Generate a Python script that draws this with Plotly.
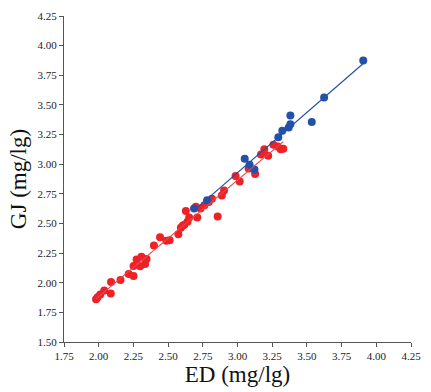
import numpy as np
import plotly.graph_objects as go

# Red series (ED, GJ)
red_x = [1.981, 1.992, 2.011, 2.040, 2.087, 2.089, 2.157, 2.216, 2.251, 2.251, 2.273, 2.308,
         2.334, 2.299, 2.398, 2.442, 2.487, 2.511, 2.574, 2.592, 2.617, 2.640, 2.628, 2.652,
         2.710, 2.734, 2.762, 2.793, 2.816, 2.857, 2.887, 2.903, 2.986, 3.016, 3.080, 3.127,
         3.169, 3.193, 3.221, 3.259, 3.311, 3.330, 2.700, 3.290, 2.605, 2.345]
red_y = [1.860, 1.877, 1.901, 1.934, 1.909, 2.007, 2.024, 2.073, 2.057, 2.141, 2.196, 2.220,
         2.157, 2.138, 2.313, 2.384, 2.354, 2.359, 2.409, 2.463, 2.490, 2.515, 2.605, 2.550,
         2.550, 2.627, 2.654, 2.681, 2.709, 2.558, 2.736, 2.777, 2.900, 2.853, 2.963, 2.918,
         3.082, 3.126, 3.072, 3.164, 3.126, 3.131, 2.640, 3.150, 2.480, 2.200]

# Blue series (ED, GJ)
blue_x = [2.687, 2.781, 3.052, 3.087, 3.122, 3.294, 3.323, 3.369, 3.381, 3.381, 3.535, 3.624, 3.906]
blue_y = [2.627, 2.695, 3.045, 2.995, 2.955, 3.227, 3.282, 3.309, 3.336, 3.410, 3.356, 3.563, 3.874]

x_ticks = [1.75, 2.00, 2.25, 2.50, 2.75, 3.00, 3.25, 3.50, 3.75, 4.00, 4.25]
y_ticks = [1.50, 1.75, 2.00, 2.25, 2.50, 2.75, 3.00, 3.25, 3.50, 3.75, 4.00, 4.25]

RED = "#ec2227"
BLUE = "#2350a8"
SERIF = "'Times New Roman', 'Liberation Serif', Times, serif"

fig = go.Figure()
fig.add_trace(go.Scatter(x=red_x, y=red_y, mode="markers",
                         marker=dict(color=RED, size=8, line=dict(width=0)), showlegend=False))
fig.add_trace(go.Scatter(x=blue_x, y=blue_y, mode="markers",
                         marker=dict(color=BLUE, size=8, line=dict(width=0)), showlegend=False))

for xs, ys, col in [(red_x, red_y, "#e8474b"), (blue_x, blue_y, BLUE)]:
    a, b = np.polyfit(xs, ys, 1)
    lx = [min(xs), max(xs)]
    ly = [a * v + b for v in lx]
    fig.add_trace(go.Scatter(x=lx, y=ly, mode="lines",
                             line=dict(color=col, width=1.2), showlegend=False))

axis_common = dict(showgrid=False, zeroline=False, showline=True, linecolor="#555555",
                   linewidth=1, ticks="outside", ticklen=4, tickcolor="#555555",
                   tickfont=dict(family=SERIF, size=11, color="#222222"),
                   tickformat=".2f")

fig.update_layout(
    width=431, height=392,
    margin=dict(l=64, r=13, t=10, b=46),
    paper_bgcolor="white", plot_bgcolor="white",
    xaxis=dict(range=[1.75, 4.25], tickvals=x_ticks,
               title=dict(text="ED (mg/lg)", font=dict(family=SERIF, size=23, color="#111111"),
                          standoff=4),
               **axis_common),
    yaxis=dict(range=[1.50, 4.25], tickvals=y_ticks,
               title=dict(text="GJ (mg/lg)", font=dict(family=SERIF, size=23, color="#111111"),
                          standoff=4),
               **axis_common),
)

fig.write_html("out.html")
